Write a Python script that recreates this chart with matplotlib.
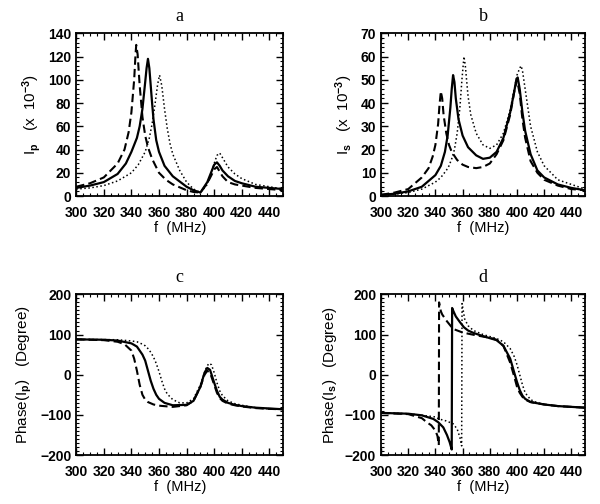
import matplotlib
matplotlib.use('Agg')
import matplotlib.pyplot as plt
from matplotlib.ticker import MultipleLocator, AutoMinorLocator

plt.rcParams['font.family'] = ['Liberation Sans', 'DejaVu Sans']
plt.rcParams['font.weight'] = 'bold'
plt.rcParams['mathtext.fontset'] = 'custom'
plt.rcParams['mathtext.rm'] = 'Liberation Sans:bold'
plt.rcParams['mathtext.it'] = 'Liberation Sans:bold'
plt.rcParams['mathtext.default'] = 'rm'

# ---- panel a : Ip (x 10^-3) ----
fa_solid = [300, 310, 320, 330, 336, 340, 344, 346, 348, 350, 351, 352, 353, 354, 355, 356, 358, 360,
            364, 370, 380, 385, 390, 395, 398, 400, 402, 404, 406, 410, 415, 420, 430, 440, 450]
ia_solid = [7, 9, 12, 19, 28, 38, 50, 60, 75, 98, 110, 118, 110, 95, 80, 66, 48, 38,
            26, 17, 8, 5, 3, 12, 21, 27, 29, 26, 22, 17, 13, 11, 8, 7, 6]
fa_dash = [300, 310, 320, 330, 335, 338, 340, 342, 343, 343.5, 344.5, 346, 348, 350, 352, 355, 360, 365,
           370, 380, 385, 390, 395, 398, 400, 402, 404, 406, 410, 415, 420, 430, 440, 450]
ia_dash = [8, 11, 16, 28, 40, 55, 72, 100, 122, 130, 122, 95, 68, 52, 42, 32, 20, 14,
           10, 5, 3.5, 3, 11, 18, 23, 25, 21, 17, 12, 10, 9, 7, 6, 5]
fa_dot = [300, 310, 320, 330, 340, 345, 350, 353, 355, 357, 359, 360.4, 362, 364, 366, 368, 370, 375,
          380, 385, 390, 395, 398, 400, 402, 404, 406, 410, 415, 420, 430, 440, 450]
ia_dot = [6, 7, 9, 13, 20, 27, 38, 50, 62, 78, 96, 104, 95, 75, 58, 45, 36, 22,
          12, 6, 3, 10, 20, 28, 35, 37, 33, 25, 19, 15, 10, 8, 6]

# ---- panel b : Is (x 10^-3) ----
fb_solid = [300, 310, 320, 330, 340, 344, 347, 349, 351, 352, 353, 354, 355, 357, 360, 364, 370, 375,
            380, 385, 390, 395, 398, 399.5, 400.5, 402, 404, 406, 410, 415, 420, 430, 440, 450]
ib_solid = [0.5, 1, 2, 4, 9, 13, 19, 26, 38, 46, 52, 49, 42, 33, 26, 21, 17.5, 16,
            16.5, 19, 25, 36, 45, 50, 51, 46, 36, 28, 18, 11, 8, 5, 3.5, 2.5]
fb_dash = [300, 310, 320, 330, 335, 338, 340, 342, 343, 344, 345, 346, 348, 350, 352, 356, 360, 364,
           370, 375, 380, 385, 390, 395, 398, 400, 402, 404, 406, 410, 415, 420, 430, 440, 450]
ib_dash = [0.5, 1.5, 3, 8, 12, 17, 22, 31, 39, 45, 42, 35, 27, 22, 19, 15.5, 13.5, 12.5,
           12, 12.5, 14, 18, 24, 35, 45, 50, 44, 33, 25, 15, 10, 7, 4.5, 3, 2.5]
fb_dot = [300, 310, 320, 330, 340, 344, 348, 350, 352, 354, 356, 358, 359.5, 361, 362, 364, 366, 370,
          375, 380, 385, 390, 395, 398, 400, 402, 403, 404, 406, 410, 415, 420, 430, 440, 450]
ib_dot = [0.3, 0.8, 1.5, 3, 6, 8, 11, 13, 16, 20, 27, 38, 50, 60, 56, 43, 35, 27,
          22, 20.5, 22, 27, 37, 46, 52, 55, 56, 54, 46, 30, 19, 13, 7, 5, 3]

# ---- panel c : Phase(Ip) (degree) ----
fc_solid = [300, 320, 330, 340, 344, 348, 350, 352, 354, 356, 358, 360, 364, 370, 380, 385, 390, 393,
            395, 397, 400, 402, 404, 406, 410, 415, 420, 430, 440, 450]
pc_solid = [88, 87, 85, 78, 70, 50, 35, 10, -15, -35, -50, -60, -70, -76, -75, -65, -30, 5,
            17, 12, -20, -40, -55, -62, -70, -75, -78, -82, -84, -86]
fc_dash = [300, 320, 330, 335, 340, 342, 344, 346, 348, 350, 352, 356, 360, 370, 380, 385, 390, 393,
           395, 397, 400, 402, 404, 406, 410, 415, 420, 430, 440, 450]
pc_dash = [88, 86, 82, 76, 60, 40, 10, -25, -50, -62, -68, -74, -77, -80, -76, -65, -30, 0,
           10, 5, -25, -45, -58, -65, -72, -76, -79, -83, -85, -86]
fc_dot = [300, 330, 340, 344, 348, 350, 352, 354, 356, 358, 360, 362, 364, 366, 370, 375, 380, 385,
          390, 394, 396, 398, 400, 402, 404, 406, 410, 415, 420, 430, 440, 450]
pc_dot = [88, 87, 84, 82, 76, 72, 65, 56, 44, 28, 8, -15, -35, -48, -62, -70, -70, -60,
          -25, 15, 28, 25, 5, -20, -40, -52, -65, -72, -76, -82, -85, -86]

# ---- panel d : Phase(Is) (degree) ----
fd_solid = [300, 320, 330, 338.5, 342, 345.8, 348.5, 350.5, 352, 352.3, 353, 355, 358, 361, 364, 368, 375, 380,
            385, 390, 395, 398, 400, 402, 404, 406, 410, 420, 430, 440, 450]
pd_solid = [-95, -97, -101, -110, -118, -131, -150, -168, -186, 166, 160, 145, 131, 118, 110, 104, 96, 91,
            86, 72, 40, 5, -18, -38, -52, -60, -68, -74, -78, -80, -82]
fd_dash = [300, 320, 330, 333.6, 337, 340, 341.5, 342.5, 342.7, 344, 345, 348, 353, 360, 370, 380, 385, 390,
           395, 398, 400, 402, 404, 406, 410, 420, 430, 440, 450]
pd_dash = [-95, -98, -108, -118, -126, -139, -152, -175, 180, 158, 150, 135, 114, 105, 98, 92, 87, 72,
           30, -5, -30, -45, -55, -62, -68, -74, -78, -80, -82]
fd_dot = [300, 320, 340, 342.5, 348, 353, 356, 358, 359.3, 359.6, 361.5, 364, 368, 375, 380, 385, 390, 395,
          398, 400, 402, 404, 406, 410, 415, 420, 430, 440, 450]
pd_dot = [-95, -97, -105, -110, -115, -122, -135, -156, -177, 177, 139, 122, 110, 100, 95, 90, 82, 65,
          45, 25, 0, -25, -45, -62, -70, -74, -78, -80, -82]

panels = [
    ('a', [0.127, 0.611, 0.345, 0.323], (0, 140), 20, r'I$_{p}$   (x  10$^{-3}$)',
     [(fa_solid, ia_solid), (fa_dash, ia_dash), (fa_dot, ia_dot)]),
    ('b', [0.635, 0.611, 0.34, 0.323], (0, 70), 10, r'I$_{s}$   (x  10$^{-3}$)',
     [(fb_solid, ib_solid), (fb_dash, ib_dash), (fb_dot, ib_dot)]),
    ('c', [0.127, 0.097, 0.345, 0.319], (-200, 200), 100, r'Phase(I$_{p}$)   (Degree)',
     [(fc_solid, pc_solid), (fc_dash, pc_dash), (fc_dot, pc_dot)]),
    ('d', [0.635, 0.097, 0.34, 0.319], (-200, 200), 100, r'Phase(I$_{s}$)   (Degree)',
     [(fd_solid, pd_solid), (fd_dash, pd_dash), (fd_dot, pd_dot)]),
]

styles = [dict(ls='-', lw=1.6), dict(ls='--', lw=1.5, dashes=(4, 2)), dict(ls=':', lw=1.1)]

fig = plt.figure(figsize=(6, 5.04), dpi=100)
for title, rect, ylim, ystep, ylabel, curves in panels:
    ax = fig.add_axes(rect)
    for (x, y), st in zip(curves, styles):
        ax.plot(x, y, color='black', **st)
    ax.set_xlim(300, 450)
    ax.set_ylim(*ylim)
    ax.xaxis.set_major_locator(MultipleLocator(20))
    ax.xaxis.set_minor_locator(AutoMinorLocator(4))
    ax.yaxis.set_major_locator(MultipleLocator(ystep))
    ax.yaxis.set_minor_locator(AutoMinorLocator(5 if ystep != 100 else 10))
    ax.tick_params(which='both', direction='in', top=True, right=True, labelsize=10)
    ax.tick_params(axis='x', which='major', pad=7)
    ax.tick_params(which='major', length=5, width=1)
    ax.tick_params(which='minor', length=2.5, width=0.8)
    for s in ax.spines.values():
        s.set_linewidth(1.3)
    ax.set_xlabel('f  (MHz)', fontsize=10.5, labelpad=1)
    ax.set_ylabel(ylabel, fontsize=11, labelpad=4)
    ax.set_title(title, fontsize=13, family='Liberation Serif', fontweight='normal', pad=9)

plt.savefig('out.png', dpi=100)
